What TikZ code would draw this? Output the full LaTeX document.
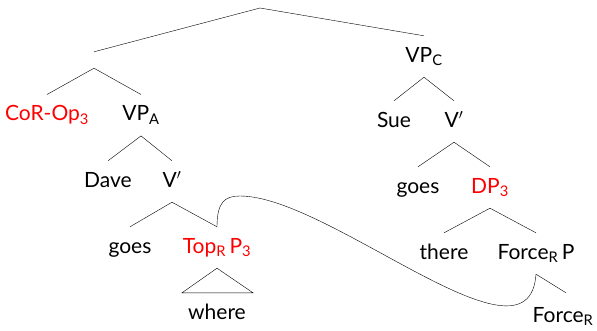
\documentclass[tikz,border=0pt]{standalone}
\usepackage{fontspec}
\setmainfont{Lato}

\begin{document}
\begin{tikzpicture}[x=1pt, y=-1pt,
  cat/.style={anchor=base, inner xsep=0pt, inner ysep=10pt,
    text height=16pt, text depth=5pt, font=\fontsize{21}{25}\selectfont},
  hl/.style={cat, text=red},
  low/.style={cat, inner ysep=0pt, text height=26pt, text depth=3pt},
  gap/.style={inner sep=0pt, minimum height=16pt, minimum width=0pt}]

\useasboundingbox (0,0) rectangle (597,330);

\coordinate (root) at (260,8);
\node[gap] (xp) at (94,60) {};
\node[hl]  (cor) at (47,120.7) {CoR-Op\textsubscript{3}};
\node[cat] (vpa) at (141,120.7) {VP\textsubscript{A}};
\node[cat] (dave) at (108,187) {Dave};
\node[cat] (va) at (172,187) {V$'$};
\node[cat] (goesa) at (130,253) {goes};
\node[hl]  (tp) at (217,253) {Top\textsubscript{R}\,P\textsubscript{3}};
\node[cat] (wh) at (217,319) {where};

\node[cat] (vpc) at (424,62) {VP\textsubscript{C}};
\node[cat] (sue) at (394,127) {Sue};
\node[cat] (vc) at (454,127) {V$'$};
\node[cat] (goesc) at (418,193) {goes};
\node[hl]  (dp) at (490,193) {DP\textsubscript{3}};
\node[cat] (there) at (444,259) {there};
\node[cat] (fp) at (536,259) {Force\textsubscript{R}\,P};
\node[low] (fr) at (563,322) {Force\textsubscript{R}};

% branches
\draw (root) -- (xp.north);
\draw (root) -- (vpc.north);
\draw (xp.south) -- (cor.north);
\draw (xp.south) -- (vpa.north);
\draw (vpa.south) -- (dave.north);
\draw (vpa.south) -- (va.north);
\draw (va.south) -- (goesa.north);
\draw (va.south) -- (tp.north);
\draw (tp.south) -- ([xshift=-35pt]wh.north) -- ([xshift=36pt]wh.north) -- cycle;

\draw (vpc.south) -- (sue.north);
\draw (vpc.south) -- (vc.north);
\draw (vc.south) -- (goesc.north);
\draw (vc.south) -- (dp.north);
\draw (dp.south) -- (there.north);
\draw (dp.south) -- (fp.north);
\draw (fp.south) -- ([xshift=3pt,yshift=3pt]fr.north);

% movement line
\coordinate (hump) at (240,196);
\draw (tp.north) .. controls +(0,-25) and +(-15,0) .. (hump)
  .. controls +(90,0) and +(-7,103) .. (fp.south);

\end{tikzpicture}
\end{document}
